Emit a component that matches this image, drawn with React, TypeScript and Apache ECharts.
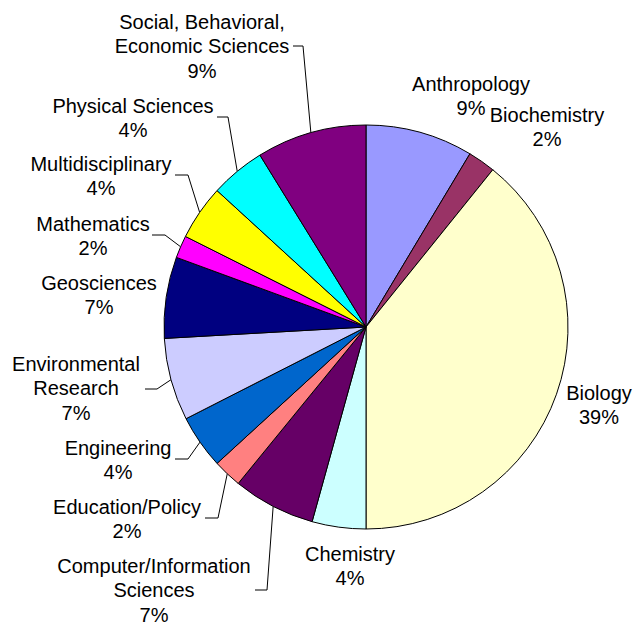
import React, { useEffect, useRef } from "react";
import * as echarts from "echarts";

const categories = [
  "Anthropology",
  "Biochemistry",
  "Biology",
  "Chemistry",
  "Computer/Information\nSciences",
  "Education/Policy",
  "Engineering",
  "Environmental\nResearch",
  "Geosciences",
  "Mathematics",
  "Multidisciplinary",
  "Physical Sciences",
  "Social, Behavioral,\nEconomic Sciences",
];
const shares = [8.6, 2.2, 39.2, 4.3, 6.6, 2.3, 4.3, 6.6, 6.5, 1.8, 4.4, 4.4, 8.8];
const colors = [
  "#9999FF", "#993366", "#FFFFCC", "#CCFFFF", "#660066", "#FF8080", "#0066CC",
  "#CCCCFF", "#000080", "#FF00FF", "#FFFF00", "#00FFFF", "#800080",
];

// label block centres and leader-line elbow/end points (layout only)
const labelSpots: { x: number; y: number; line?: number[][] }[] = [
  { x: 471, y: 96 },
  { x: 547, y: 127 },
  { x: 599, y: 405 },
  { x: 350, y: 566 },
  { x: 154, y: 590, line: [[267, 590], [255, 590]] },
  { x: 127, y: 519, line: [[218, 518], [205, 518]] },
  { x: 118, y: 460, line: [[188, 459], [175, 459]] },
  { x: 76, y: 388, line: [[157, 389], [145, 389]] },
  { x: 99, y: 295 },
  { x: 93, y: 236, line: [[165, 235], [152, 235]] },
  { x: 101, y: 176, line: [[188, 175], [175, 175]] },
  { x: 133, y: 118, line: [[228, 117], [217, 117]] },
  { x: 202, y: 46, line: [[303, 46], [293, 46]] },
];

export default function App() {
  const ref = useRef<HTMLDivElement>(null);
  useEffect(() => {
    document.body.style.margin = "0";
    const chart = echarts.init(ref.current!, null, { renderer: "svg" });
    chart.setOption({
      animation: false,
      backgroundColor: "#ffffff",
      series: [
        {
          type: "pie",
          center: [366, 327],
          radius: 202,
          startAngle: 90,
          clockwise: true,
          avoidLabelOverlap: false,
          itemStyle: { borderColor: "#000000", borderWidth: 1 },
          emphasis: { disabled: true },
          label: {
            show: true,
            position: "outside",
            color: "#000000",
            fontFamily: "Liberation Sans, Arial, sans-serif",
            fontSize: 20,
            lineHeight: 24.5,
            align: "center",
            formatter: (p: any) => `${p.name}\n${Math.round(p.value)}%`,
          },
          labelLine: {
            show: true,
            smooth: false,
            lineStyle: { color: "#000000", width: 1 },
          },
          labelLayout: (params: any) => {
            const s = labelSpots[params.dataIndex];
            const res: any = { x: s.x, y: s.y, align: "center", verticalAlign: "middle" };
            if (s.line && params.labelLinePoints) {
              res.labelLinePoints = [params.labelLinePoints[0], ...s.line];
            }
            return res;
          },
          data: categories.map((name, i) => ({
            name,
            value: shares[i],
            itemStyle: { color: colors[i] },
            labelLine: { show: !!labelSpots[i].line },
          })),
        },
      ],
    });
    return () => chart.dispose();
  }, []);
  return <div ref={ref} style={{ width: 634, height: 625 }} />;
}
